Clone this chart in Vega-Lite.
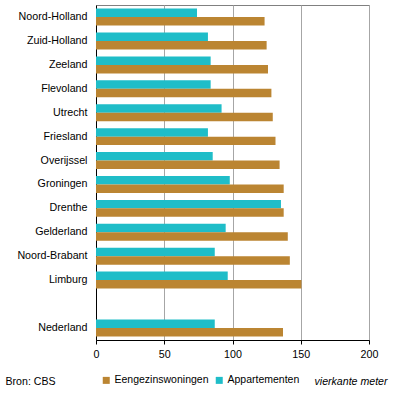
{
  "$schema": "https://vega.github.io/schema/vega-lite/v6.json",
  "width": 273,
  "height": 335,
  "autosize": {"type": "none"},
  "padding": {"left": 96, "top": 5, "right": 27, "bottom": 65},
  "background": "white",
  "config": {
    "font": "Liberation Sans",
    "view": {"stroke": "#808080", "strokeWidth": 1},
    "axis": {"labelColor": "black", "labelFontSize": 10.7, "titleFontWeight": "normal", "titleColor": "black", "titleFontSize": 10.6}
  },
  "data": {
    "values": [
      {"regio": "Noord-Holland", "type": "Appartementen", "m2": 74},
      {"regio": "Noord-Holland", "type": "Eengezinswoningen", "m2": 123.5},
      {"regio": "Zuid-Holland", "type": "Appartementen", "m2": 82},
      {"regio": "Zuid-Holland", "type": "Eengezinswoningen", "m2": 125},
      {"regio": "Zeeland", "type": "Appartementen", "m2": 84},
      {"regio": "Zeeland", "type": "Eengezinswoningen", "m2": 126},
      {"regio": "Flevoland", "type": "Appartementen", "m2": 84},
      {"regio": "Flevoland", "type": "Eengezinswoningen", "m2": 128.5},
      {"regio": "Utrecht", "type": "Appartementen", "m2": 92},
      {"regio": "Utrecht", "type": "Eengezinswoningen", "m2": 129.5},
      {"regio": "Friesland", "type": "Appartementen", "m2": 82},
      {"regio": "Friesland", "type": "Eengezinswoningen", "m2": 131.5},
      {"regio": "Overijssel", "type": "Appartementen", "m2": 85.5},
      {"regio": "Overijssel", "type": "Eengezinswoningen", "m2": 134.5},
      {"regio": "Groningen", "type": "Appartementen", "m2": 98},
      {"regio": "Groningen", "type": "Eengezinswoningen", "m2": 137.5},
      {"regio": "Drenthe", "type": "Appartementen", "m2": 135.5},
      {"regio": "Drenthe", "type": "Eengezinswoningen", "m2": 137.5},
      {"regio": "Gelderland", "type": "Appartementen", "m2": 95},
      {"regio": "Gelderland", "type": "Eengezinswoningen", "m2": 140.5},
      {"regio": "Noord-Brabant", "type": "Appartementen", "m2": 87},
      {"regio": "Noord-Brabant", "type": "Eengezinswoningen", "m2": 142},
      {"regio": "Limburg", "type": "Appartementen", "m2": 96.5},
      {"regio": "Limburg", "type": "Eengezinswoningen", "m2": 150.5},
      {"regio": "Nederland", "type": "Appartementen", "m2": 87},
      {"regio": "Nederland", "type": "Eengezinswoningen", "m2": 137}
    ]
  },
  "mark": {"type": "bar"},
  "encoding": {
    "y": {
      "field": "regio",
      "type": "nominal",
      "title": "Bron: CBS",
      "scale": {
        "domain": ["Noord-Holland", "Zuid-Holland", "Zeeland", "Flevoland", "Utrecht", "Friesland", "Overijssel", "Groningen", "Drenthe", "Gelderland", "Noord-Brabant", "Limburg", "gap", "Nederland"],
        "paddingInner": 0.29,
        "paddingOuter": 0.15
      },
      "axis": {
        "ticks": false,
        "labelPadding": 9,
        "domainColor": "black",
        "labelExpr": "datum.value == 'gap' ? '' : datum.value",
        "titleAngle": 0,
        "titleX": -91,
        "titleY": 376,
        "titleAlign": "left",
        "titleBaseline": "middle"
      }
    },
    "yOffset": {
      "field": "type",
      "scale": {"domain": ["Appartementen", "Eengezinswoningen"]}
    },
    "x": {
      "field": "m2",
      "type": "quantitative",
      "title": "vierkante meter",
      "scale": {"domain": [0, 200]},
      "axis": {
        "values": [0, 50, 100, 150, 200],
        "grid": true,
        "gridColor": "#a6a6a6",
        "gridOpacity": 1,
        "domainColor": "black",
        "tickColor": "black",
        "tickSize": 4,
        "labelPadding": 5,
        "labelFlush": false,
        "titleFontStyle": "italic",
        "titleX": 291,
        "titleY": 41,
        "titleAlign": "right",
        "titleAnchor": null,
        "titleBaseline": "middle"
      }
    },
    "color": {
      "field": "type",
      "type": "nominal",
      "scale": {"domain": ["Eengezinswoningen", "Appartementen"], "range": ["#bb8532", "#1fbdc8"]},
      "legend": {
        "orient": "none",
        "legendX": 5,
        "legendY": 370,
        "direction": "horizontal",
        "title": null,
        "symbolType": "square",
        "symbolSize": 49,
        "symbolStrokeWidth": 0,
        "labelFontSize": 10.5,
        "labelColor": "black",
        "labelOffset": 3,
        "columnPadding": 5
      }
    }
  }
}
